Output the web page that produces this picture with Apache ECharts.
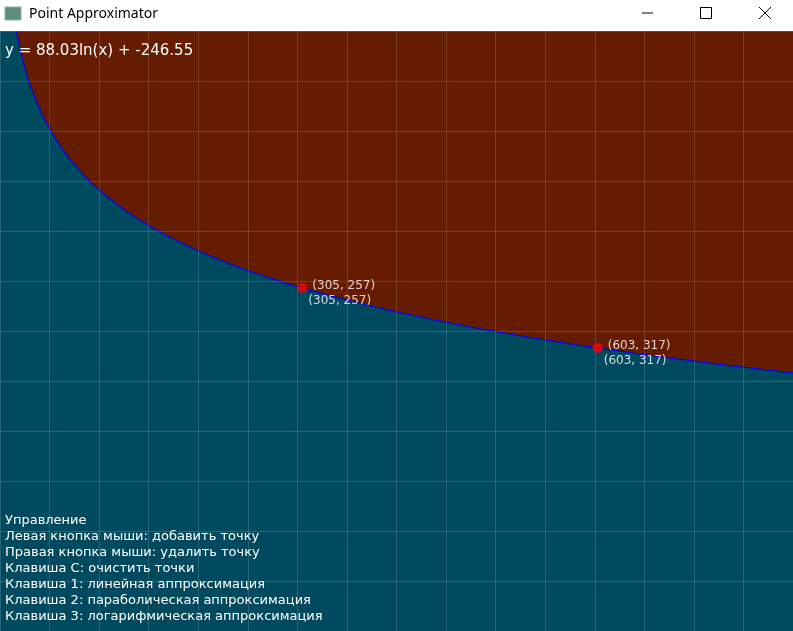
<!DOCTYPE html>
<html><head><meta charset="utf-8">
<script src="https://cdn.jsdelivr.net/npm/echarts@6/dist/echarts.min.js"></script>
<style>html,body{margin:0;padding:0;background:#fff}#c{width:793px;height:631px}</style>
</head><body><div id="c"></div>
<script>
const coefA = 88.03, coefB = -246.55;
const pointsX = [305, 603];
const pointsY = [257, 317];
const gridTicks = [0,50,100,150,200,250,300,350,400,450,500,550,600,650,700,750,800];
const helpLines = ['Управление','Левая кнопка мыши: добавить точку','Правая кнопка мыши: удалить точку','Клавиша C: очистить точки','Клавиша 1: линейная аппроксимация','Клавиша 2: параболическая аппроксимация','Клавиша 3: логарифмическая аппроксимация'];

const x0 = Math.exp(-coefB/coefA);
const curve = [];
for (let x = x0; x <= 800; x += (x < 100 ? 0.5 : 4)) curve.push([x, coefA*Math.log(x)+coefB]);
curve.push([800, coefA*Math.log(800)+coefB]);
const pts = pointsX.map((x,i)=>[x, pointsY[i]]);
const fmt = p => '(' + p.value[0] + ', ' + p.value[1] + ')';

const graphic = [
  {type:'rect', shape:{x:0,y:0,width:793,height:31}, style:{fill:'#fff'}, z:100},
  {type:'rect', shape:{x:5,y:7,width:16,height:13}, style:{fill:'#5a8f7f',stroke:'#9aa',lineWidth:1}, z:101},
  {type:'text', x:29, y:7, style:{text:'Point Approximator', font:'14px "Noto Sans", sans-serif', fill:'#000'}, z:101},
  {type:'line', shape:{x1:642,y1:13,x2:653,y2:13}, style:{stroke:'#000',lineWidth:1}, z:101},
  {type:'rect', shape:{x:700.5,y:7.5,width:11,height:11}, style:{fill:'none',stroke:'#000',lineWidth:1}, z:101},
  {type:'line', shape:{x1:759,y1:7,x2:771,y2:19}, style:{stroke:'#000',lineWidth:1}, z:101},
  {type:'line', shape:{x1:771,y1:7,x2:759,y2:19}, style:{stroke:'#000',lineWidth:1}, z:101},
  {type:'text', x:5, y:44, style:{text:'y = ' + coefA.toFixed(2) + 'ln(x) + ' + coefB.toFixed(2), font:'15px "DejaVu Sans", sans-serif', fill:'#fff'}, z:101}
];
helpLines.forEach((t,i)=>graphic.push({type:'text', x:5, y:514+i*16, style:{text:t, font:'13px "DejaVu Sans", sans-serif', fill:'#fff'}, z:101}));

const chart = echarts.init(document.getElementById('c'));
chart.setOption({
  backgroundColor:'#004a5f',
  animation:false,
  graphic: graphic,
  grid:{left:-6, top:31, width:800, height:600},
  xAxis:{type:'value', min:0, max:800, interval:50, z:10, axisLine:{show:false}, axisTick:{show:false}, axisLabel:{show:false},
    splitLine:{show:true, lineStyle:{color:'rgba(255,255,255,0.15)', width:1}}},
  yAxis:{type:'value', inverse:true, min:0, max:600, interval:50, z:10, axisLine:{show:false}, axisTick:{show:false}, axisLabel:{show:false},
    splitLine:{show:true, lineStyle:{color:'rgba(255,255,255,0.15)', width:1}}},
  series:[
    {type:'line', data:curve, showSymbol:false, symbol:'none', lineStyle:{color:'#0000ff', width:1.2}, areaStyle:{color:'#661c00', opacity:1, origin:'start'}, z:2},
    {type:'scatter', data:pts, symbolSize:10, itemStyle:{color:'#ff0000'}, z:20,
      label:{show:true, position:'right', distance:5, offset:[0,-2], formatter:fmt, color:'#fff', fontSize:12, fontFamily:'DejaVu Sans'}},
    {type:'scatter', data:pts, symbolSize:0, z:20,
      label:{show:true, position:'right', distance:0, offset:[6,13], formatter:fmt, color:'#fff', fontSize:12, fontFamily:'DejaVu Sans'}}
  ]
});
</script></body></html>
